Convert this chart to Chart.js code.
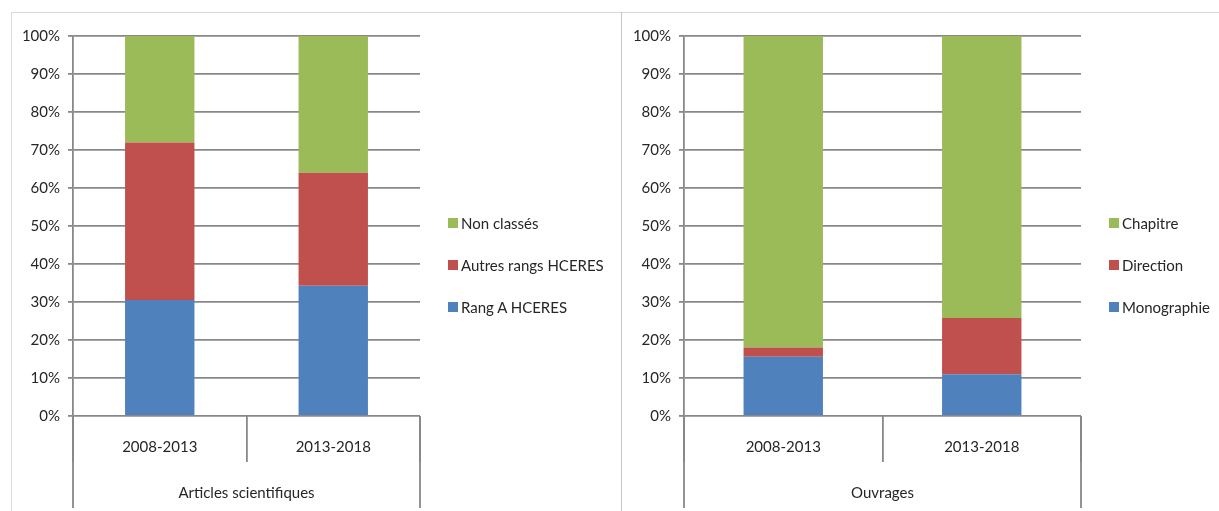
<!DOCTYPE html>
<html lang="fr">
<head>
<meta charset="utf-8">
<title>Publications 2008-2018</title>
<script src="https://cdn.jsdelivr.net/npm/chart.js@4/dist/chart.umd.min.js"></script>
<style>
  body { margin: 0; background: #fff; width: 1219px; height: 511px; position: relative; overflow: hidden; font-family: Lato, sans-serif; }
  .frame { position: absolute; left: 11px; top: 12px; right: 0; bottom: 0; border-top: 1px solid #d9d9d9; border-left: 1px solid #d9d9d9; }
  .divider { position: absolute; left: 621px; top: 12px; bottom: 0; border-left: 1px solid #c4c4c4; }
  canvas { position: absolute; }
  #articles { left: 12px; top: 13px; }
  #ouvrages { left: 622px; top: 13px; }
  .legend { position: absolute; top: 202px; color: #262626; font-size: 15px; }
  .legend div { display: flex; align-items: center; height: 42px; }
  .legend span.box { display: inline-block; width: 10px; height: 10px; margin-right: 3px; }
  #legend-articles { left: 448px; }
  #legend-ouvrages { left: 1109px; }
</style>
</head>
<body>
<div class="frame"></div>
<div class="divider"></div>
<canvas id="articles" width="609" height="498"></canvas>
<canvas id="ouvrages" width="597" height="498"></canvas>
<div class="legend" id="legend-articles"></div>
<div class="legend" id="legend-ouvrages"></div>

<script>
// Périodes d'évaluation
const periods = ['2008-2013', '2013-2018'];

// Articles scientifiques (% du total de la période)
const rangA = [30.5, 34.3];
const autresRangs = [41.5, 29.7];
const nonClasses = [28.0, 36.0];

// Ouvrages (% du total de la période)
const monographie = [15.6, 11.0];
const direction = [2.4, 14.8];
const chapitre = [82.0, 74.2];

const yTicks = [0, 10, 20, 30, 40, 50, 60, 70, 80, 90, 100];

const BLUE = '#4f81bd';
const RED = '#c0504d';
const GREEN = '#9bbb59';
const GRID = '#888888';
const TEXT = '#262626';

Chart.defaults.font.family = 'Lato, sans-serif';
Chart.defaults.font.size = 15;
Chart.defaults.color = TEXT;

// prolonge les bords gauche/droit de l'axe des catégories jusqu'au titre
const outerLines = {
  id: 'outerLines',
  afterDraw(chart) {
    const { ctx, chartArea } = chart;
    ctx.save();
    ctx.strokeStyle = GRID;
    ctx.lineWidth = 1.8;
    ctx.beginPath();
    [chartArea.left, chartArea.right].forEach(x => {
      ctx.moveTo(x, chartArea.bottom);
      ctx.lineTo(x, chart.height - 3);
    });
    ctx.stroke();
    ctx.restore();
  }
};

function makeChart(id, title, series, yWidth, padRight) {
  const ctx = document.getElementById(id);
  return new Chart(ctx, {
    type: 'bar',
    data: {
      labels: periods,
      datasets: series.map(s => ({
        label: s.label,
        data: s.data,
        backgroundColor: s.color,
        borderWidth: 0,
        categoryPercentage: 0.8,
        barPercentage: 0.5,
      })),
    },
    options: {
      responsive: false,
      animation: false,
      layout: {
        padding: { top: 23, right: padRight, bottom: 0, left: 0 },
      },
      scales: {
        x: {
          stacked: true,
          afterFit: scale => { scale.height = 95; },
          grid: {
            offset: true,
            drawOnChartArea: false,
            tickLength: 46,
            color: GRID,
            lineWidth: 1.8,
          },
          border: { display: false },
          ticks: { padding: -24, color: TEXT },
          title: {
            display: true,
            text: title,
            color: TEXT,
            padding: { top: 0, bottom: 9 },
          },
        },
        y: {
          stacked: true,
          min: 0,
          max: 100,
          afterFit: scale => { scale.width = yWidth; },
          afterBuildTicks: scale => { scale.ticks = yTicks.map(v => ({ value: v })); },
          grid: { color: GRID, lineWidth: 1.8, tickLength: 5 },
          border: { display: true, color: GRID, width: 1.8 },
          ticks: {
            padding: 8,
            color: TEXT,
            callback: v => v + '%',
          },
        },
      },
      plugins: {
        legend: { display: false },
        tooltip: { enabled: false },
      },
    },
    plugins: [outerLines],
  });
}

// légende HTML, de la série du haut vers celle du bas
function makeLegend(id, series) {
  const el = document.getElementById(id);
  series.slice().reverse().forEach(s => {
    const row = document.createElement('div');
    const box = document.createElement('span');
    box.className = 'box';
    box.style.background = s.color;
    row.appendChild(box);
    row.appendChild(document.createTextNode(s.label));
    el.appendChild(row);
  });
}

const articlesSeries = [
  { label: 'Rang A HCERES', data: rangA, color: BLUE },
  { label: 'Autres rangs HCERES', data: autresRangs, color: RED },
  { label: 'Non classés', data: nonClasses, color: GREEN },
];

const ouvragesSeries = [
  { label: 'Monographie', data: monographie, color: BLUE },
  { label: 'Direction', data: direction, color: RED },
  { label: 'Chapitre', data: chapitre, color: GREEN },
];

makeChart('articles', 'Articles scientifiques', articlesSeries, 61, 201);
makeChart('ouvrages', 'Ouvrages', ouvragesSeries, 62, 138);
makeLegend('legend-articles', articlesSeries);
makeLegend('legend-ouvrages', ouvragesSeries);
</script>
</body>
</html>
